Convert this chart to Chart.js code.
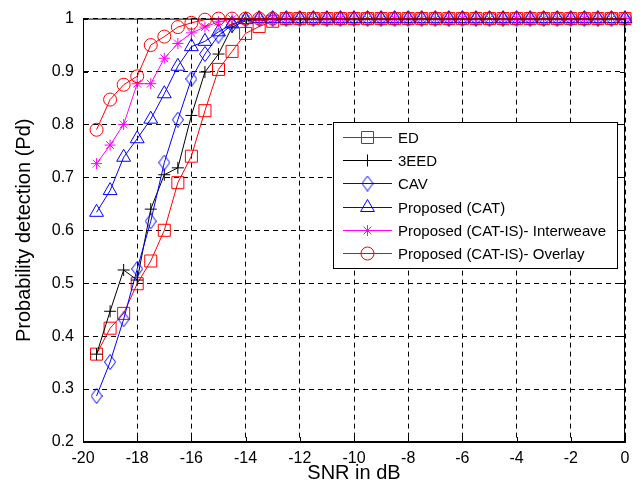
<!DOCTYPE html>
<html>
<head>
<meta charset="utf-8">
<script src="https://cdn.jsdelivr.net/npm/chart.js@4.4.1/dist/chart.umd.min.js"></script>
<style>
  html, body { margin: 0; padding: 0; background: #fff; }
  #wrap { width: 642px; height: 496px; position: relative; }
</style>
</head>
<body>
<div id="wrap"><canvas id="pdChart"></canvas></div>
<script>
const SNR = [-19.5, -19, -18.5, -18, -17.5, -17, -16.5, -16, -15.5, -15, -14.5, -14, -13.5, -13,
  -12.5, -12, -11.5, -11, -10.5, -10, -9.5, -9, -8.5, -8, -7.5, -7, -6.5, -6, -5.5, -5,
  -4.5, -4, -3.5, -3, -2.5, -2, -1.5, -1, -0.5, 0];

const ED = [0.366, 0.415, 0.443, 0.499, 0.542, 0.600, 0.690, 0.740, 0.826, 0.904, 0.938, 0.972, 0.985, 0.995,
  1, 1, 1, 1, 1, 1, 1, 1, 1, 1, 1, 1, 1, 1, 1, 1, 1, 1, 1, 1, 1, 1, 1, 1, 1, 1];

const EED3 = [0.366, 0.447, 0.525, 0.506, 0.640, 0.705, 0.718, 0.817, 0.899, 0.933, 0.984, 0.996, 1, 1,
  1, 1, 1, 1, 1, 1, 1, 1, 1, 1, 1, 1, 1, 1, 1, 1, 1, 1, 1, 1, 1, 1, 1, 1, 1, 1];

const CAV = [0.287, 0.351, 0.432, 0.527, 0.617, 0.728, 0.809, 0.886, 0.933, 0.968, 0.988, 0.998, 1, 1,
  1, 1, 1, 1, 1, 1, 1, 1, 1, 1, 1, 1, 1, 1, 1, 1, 1, 1, 1, 1, 1, 1, 1, 1, 1, 1];

const CAT = [0.634, 0.675, 0.738, 0.773, 0.810, 0.858, 0.910, 0.947, 0.957, 0.975, 0.990, 0.998, 1, 1,
  1, 1, 1, 1, 1, 1, 1, 1, 1, 1, 1, 1, 1, 1, 1, 1, 1, 1, 1, 1, 1, 1, 1, 1, 1, 1];

const INTERWEAVE = [0.726, 0.761, 0.800, 0.877, 0.877, 0.925, 0.953, 0.973, 0.984, 0.994, 0.999, 1, 1, 1,
  1, 1, 1, 1, 1, 1, 1, 1, 1, 1, 1, 1, 1, 1, 1, 1, 1, 1, 1, 1, 1, 1, 1, 1, 1, 1];

const OVERLAY = [0.790, 0.847, 0.875, 0.891, 0.950, 0.966, 0.984, 0.992, 0.998, 1, 1, 1, 1, 1,
  1, 1, 1, 1, 1, 1, 1, 1, 1, 1, 1, 1, 1, 1, 1, 1, 1, 1, 1, 1, 1, 1, 1, 1, 1, 1];

const X_TICKS = [-20, -18, -16, -14, -12, -10, -8, -6, -4, -2, 0];
const Y_TICKS = [0.2, 0.3, 0.4, 0.5, 0.6, 0.7, 0.8, 0.9, 1];

const FONT = "'Liberation Sans', Arial, Helvetica, sans-serif";

// matlab's diamond is taller than it is wide, so draw it on a small canvas
function makeDiamond(color) {
  const c = document.createElement("canvas");
  c.width = 12;
  c.height = 16;
  const g = c.getContext("2d");
  g.strokeStyle = color;
  g.lineWidth = 1;
  g.beginPath();
  g.moveTo(6, 0.5);
  g.lineTo(11.5, 8);
  g.lineTo(6, 15.5);
  g.lineTo(0.5, 8);
  g.closePath();
  g.stroke();
  return c;
}

const SERIES = [
  { label: "ED", values: ED, color: "#ff0000", style: "rect", radius: 8.5 },
  { label: "3EED", values: EED3, color: "#000000", style: "cross", radius: 6 },
  { label: "CAV", values: CAV, color: "#0000ff", style: makeDiamond("#0000ff"), radius: 7 },
  { label: "Proposed (CAT)", values: CAT, color: "#0000ff", style: "triangle", radius: 8 },
  { label: "Proposed (CAT-IS)- Interweave", values: INTERWEAVE, color: "#ff00ff", style: "star", radius: 5.5 },
  { label: "Proposed (CAT-IS)- Overlay", values: OVERLAY, color: "#ff0000", style: "circle", radius: 6.5 }
];

// matlab style box, inward ticks and a legend inside the axes
const matlabFrame = {
  id: "matlabFrame",
  afterDraw(chart) {
    const { ctx, chartArea: a, scales } = chart;
    ctx.save();
    ctx.strokeStyle = "#000";
    ctx.lineWidth = 1;
    ctx.setLineDash([]);
    ctx.strokeRect(a.left + 0.5, a.top + 0.5, a.right - a.left - 1, a.bottom - a.top - 1);

    ctx.beginPath();
    X_TICKS.forEach(v => {
      const x = Math.round(scales.x.getPixelForValue(v)) + 0.5;
      ctx.moveTo(x, a.bottom); ctx.lineTo(x, a.bottom - 5);
      ctx.moveTo(x, a.top); ctx.lineTo(x, a.top + 5);
    });
    Y_TICKS.forEach(v => {
      const y = Math.round(scales.y.getPixelForValue(v)) + 0.5;
      ctx.moveTo(a.left, y); ctx.lineTo(a.left + 5, y);
      ctx.moveTo(a.right, y); ctx.lineTo(a.right - 5, y);
    });
    ctx.stroke();

    // legend
    const box = { x: 333.5, y: 122.5, w: 284, h: 146 };
    ctx.fillStyle = "#fff";
    ctx.fillRect(box.x, box.y, box.w, box.h);
    ctx.strokeRect(box.x, box.y, box.w, box.h);

    ctx.font = "15px " + FONT;
    ctx.textBaseline = "middle";
    ctx.textAlign = "left";
    SERIES.forEach((s, i) => {
      const y = Math.round(137 + i * 23.2) + 0.5;
      ctx.strokeStyle = s.color;
      ctx.lineWidth = 1;
      ctx.beginPath();
      ctx.moveTo(343, y);
      ctx.lineTo(392, y);
      ctx.stroke();
      ctx.fillStyle = "rgba(0,0,0,0)";
      Chart.helpers.drawPoint(ctx, { pointStyle: s.style, radius: s.radius, rotation: 0, borderWidth: 1 }, 367.5, y);
      ctx.fillStyle = "#000";
      ctx.fillText(s.label, 398, y + 1);
    });
    ctx.restore();
  }
};

const datasets = SERIES.map((s, i) => ({
  label: s.label,
  data: SNR.map((x, k) => ({ x, y: s.values[k] })),
  borderColor: s.color,
  backgroundColor: "rgba(0,0,0,0)",
  borderWidth: 1,
  pointStyle: s.style,
  pointRadius: s.radius,
  pointBorderColor: s.color,
  pointBackgroundColor: "rgba(0,0,0,0)",
  pointBorderWidth: 1,
  tension: 0,
  clip: false,
  order: SERIES.length - i
}));

new Chart(document.getElementById("pdChart"), {
  type: "line",
  data: { datasets },
  options: {
    responsive: true,
    maintainAspectRatio: false,
    animation: false,
    events: [],
    layout: { padding: { left: 0, right: 17, top: 14, bottom: 0 } },
    plugins: {
      legend: { display: false },
      tooltip: { enabled: false }
    },
    scales: {
      x: {
        type: "linear",
        min: -20,
        max: 0,
        afterBuildTicks: scale => { scale.ticks = X_TICKS.map(value => ({ value })); },
        afterFit: scale => { scale.height = 54; },
        ticks: {
          color: "#000",
          font: { family: FONT, size: 16 },
          padding: 7,
          maxRotation: 0,
          callback: v => String(v)
        },
        grid: { color: "#000", lineWidth: 1, drawTicks: false, tickLength: 0 },
        border: { display: true, color: "#000", width: 1, dash: [5, 4] },
        title: {
          display: true,
          text: "SNR in dB",
          color: "#000",
          font: { family: FONT, size: 20 },
          padding: { top: 0, bottom: 11 }
        }
      },
      y: {
        type: "linear",
        min: 0.2,
        max: 1,
        afterBuildTicks: scale => { scale.ticks = Y_TICKS.map(value => ({ value })); },
        afterFit: scale => { scale.width = 83; },
        ticks: {
          color: "#000",
          font: { family: FONT, size: 16 },
          padding: 9,
          callback: v => String(Math.round(v * 10) / 10)
        },
        grid: { color: "#000", lineWidth: 1, drawTicks: false, tickLength: 0 },
        border: { display: true, color: "#000", width: 1, dash: [5, 4] },
        title: {
          display: true,
          text: "Probability detection (Pd)",
          color: "#000",
          font: { family: FONT, size: 20 },
          padding: { top: 12, bottom: 0 }
        }
      }
    }
  },
  plugins: [matlabFrame]
});
</script>
</body>
</html>
